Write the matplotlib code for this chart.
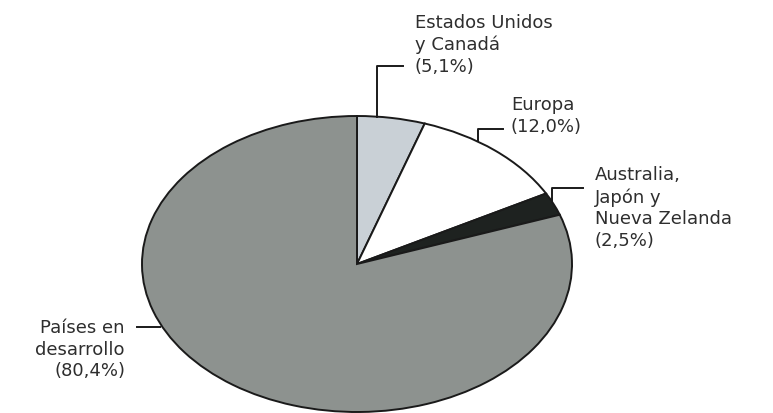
import matplotlib.pyplot as plt

# Distribución (%) por región
regions = ['Estados Unidos\ny Canadá', 'Europa', 'Australia,\nJapón y\nNueva Zelanda', 'Países en\ndesarrollo']
shares = [5.1, 12.0, 2.5, 80.4]
colors = ['#c9d0d6', '#ffffff', '#1e2220', '#8d928f']

W, H = 773, 414
fig = plt.figure(figsize=(W / 100, H / 100), dpi=100)

# pie stretched into an ellipse: centre (357, 265), radii 215 x 148 px
cx, cy, rx, ry = 357, 265, 215, 148
ax = fig.add_axes([(cx - rx) / W, (H - cy - ry) / H, 2 * rx / W, 2 * ry / H])
wedges, _ = ax.pie(shares, colors=colors, startangle=90, counterclock=False,
                   wedgeprops={'edgecolor': '#1a1a1a', 'linewidth': 1.4})
for w in wedges:
    w.set_clip_on(False)
ax.set_aspect('auto')
ax.set_xlim(-1, 1)
ax.set_ylim(-1, 1)

# overlay in pixel coordinates for labels and leader lines
ov = fig.add_axes([0, 0, 1, 1], facecolor='none')
ov.set_xlim(0, W)
ov.set_ylim(H, 0)
ov.axis('off')

labels = [f'{r}\n({str(s).replace(".", ",")}%)' for r, s in zip(regions, shares)]
txt = dict(fontsize=13, color='#2e2e2e', family='DejaVu Sans', linespacing=1.25)

ov.text(415, 45, labels[0], ha='left', va='center', **txt)
ov.plot([377, 377, 403], [118, 67, 67], color='#1a1a1a', lw=1.4)

ov.text(511, 116, labels[1], ha='left', va='center', **txt)
ov.plot([478, 478, 503], [142, 130, 130], color='#1a1a1a', lw=1.4)

ov.text(595, 208, labels[2], ha='left', va='center', **txt)
ov.plot([552, 552, 583], [203, 189, 189], color='#1a1a1a', lw=1.4)

ov.text(125, 350, labels[3], ha='right', va='center', multialignment='right', **txt)
ov.plot([137, 160], [328, 328], color='#1a1a1a', lw=1.4)

fig.savefig('out.png', dpi=100)
